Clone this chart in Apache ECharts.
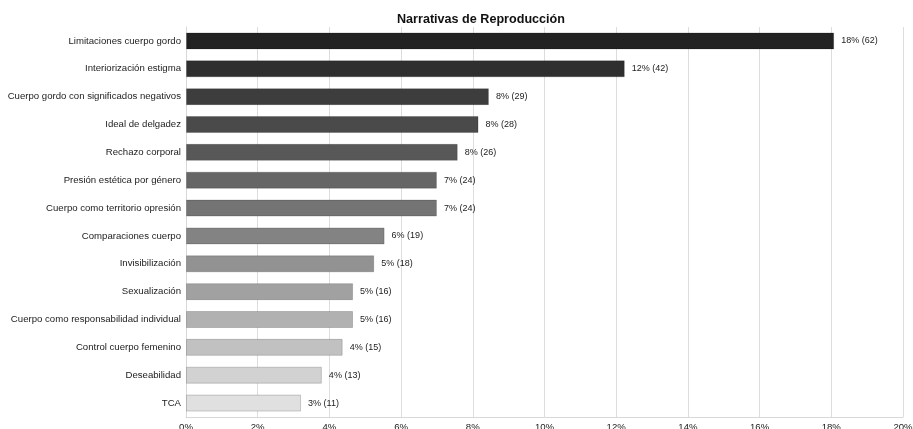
<!DOCTYPE html>
<html>
<head>
<meta charset="utf-8">
<script src="https://cdn.jsdelivr.net/npm/echarts@6/dist/echarts.min.js"></script>
<style>
  html, body { margin: 0; padding: 0; background: #fff; }
  #chart { width: 913px; height: 429px; }
</style>
</head>
<body>
<div id="chart"></div>
<script>
const categories = [
  "Limitaciones cuerpo gordo",
  "Interiorización estigma",
  "Cuerpo gordo con significados negativos",
  "Ideal de delgadez",
  "Rechazo corporal",
  "Presión estética por género",
  "Cuerpo como territorio opresión",
  "Comparaciones cuerpo",
  "Invisibilización",
  "Sexualización",
  "Cuerpo como responsabilidad individual",
  "Control cuerpo femenino",
  "Deseabilidad",
  "TCA"
];
// percentage of mentions (bar length)
const percents = [18.08, 12.24, 8.45, 8.16, 7.58, 7.0, 7.0, 5.54, 5.25, 4.66, 4.66, 4.37, 3.79, 3.21];
// raw counts shown in brackets
const counts = [62, 42, 29, 28, 26, 24, 24, 19, 18, 16, 16, 15, 13, 11];
const percentLabels = ["18%", "12%", "8%", "8%", "8%", "7%", "7%", "6%", "5%", "5%", "5%", "4%", "4%", "3%"];
const barColors = [
  "#222222", "#2f2f2f", "#3d3d3d", "#4a4a4a", "#585858", "#666666", "#747474",
  "#838383", "#929292", "#a1a1a1", "#b1b1b1", "#c1c1c1", "#d2d2d2", "#e0e0e0"
];

const chart = echarts.init(document.getElementById("chart"));
const font = "'Liberation Sans', Arial, sans-serif";

chart.setOption({
  animation: false,
  title: {
    text: "Narrativas de Reproducción",
    left: 476,
    textAlign: "center",
    top: 8,
    textStyle: { fontFamily: font, fontSize: 12.6, fontWeight: "bold", color: "#111" },
  },
  grid: { left: 186, right: 10, top: 27, bottom: 12, outerBoundsMode: "none" },
  xAxis: {
    type: "value",
    min: 0,
    max: 20,
    interval: 2,
    axisLine: { show: true, lineStyle: { color: "#d8d8d8" } },
    axisTick: { show: false },
    splitLine: { show: true, lineStyle: { color: "#dddddd", width: 1 } },
    axisLabel: {
      formatter: "{value}%",
      color: "#222",
      fontFamily: font,
      fontSize: 9.6,
      margin: 5,
    },
  },
  yAxis: {
    type: "category",
    inverse: true,
    data: categories,
    axisLine: { show: true, lineStyle: { color: "#d8d8d8" } },
    axisTick: { show: false },
    axisLabel: { color: "#222", fontFamily: font, fontSize: 9.6, margin: 5 },
  },
  series: [
    {
      type: "bar",
      barWidth: 17,
      data: percents.map((v, i) => ({
        value: v,
        itemStyle: {
          color: barColors[i],
          borderColor: "rgba(0,0,0,0.18)",
          borderWidth: 1,
        },
      })),
      label: {
        show: true,
        position: "right",
        distance: 7,
        color: "#222",
        fontFamily: font,
        fontSize: 9,
        formatter: (p) => `${percentLabels[p.dataIndex]} (${counts[p.dataIndex]})`,
      },
    },
  ],
});
</script>
</body>
</html>
